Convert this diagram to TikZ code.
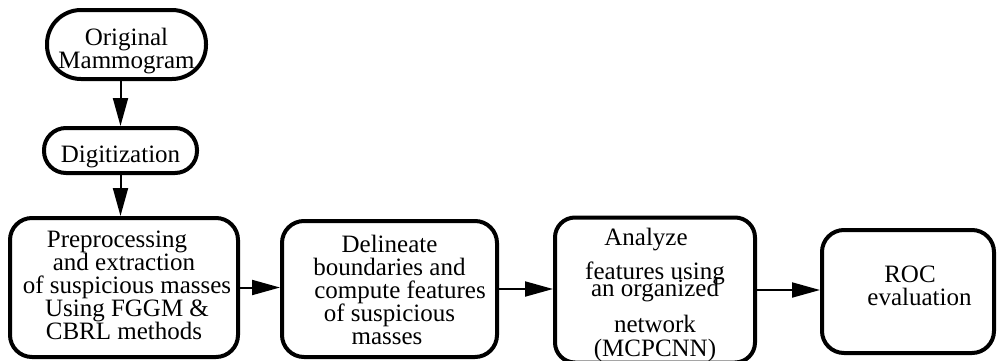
\documentclass[tikz,border=0pt]{standalone}
\usepackage{fontspec}
\setmainfont{Liberation Serif}
\usetikzlibrary{arrows.meta}
\setlength{\lineskiplimit}{-100pt}
\setlength{\lineskip}{0pt}
\newcommand{\topst}[1]{\rule{0pt}{#1}}
\newcommand{\botst}[1]{\rule[-#1]{0pt}{#1}}
\newcommand{\boxfont}{\fontsize{25}{23}\selectfont}
\begin{document}
\begin{tikzpicture}[x=1pt,y=-1pt,
  box/.style={draw, line width=4pt, inner sep=0pt, align=center,
    font=\boxfont, rounded corners=22pt},
  arr/.style={line width=2pt, -{Triangle[length=28pt,width=15pt]}}]
\useasboundingbox (0,0) rectangle (997,360);
\node[box, minimum width=159pt, minimum height=69pt, rounded corners=34pt] (orig) at (126.5,44.5)
  {\topst{31pt}Original\\Mammogram\botst{7pt}};
\node[box, minimum width=153pt, minimum height=45pt, rounded corners=22pt] (digit) at (120.5,150.5)
  {\rule[-7pt]{0pt}{37pt}Digitization};
\node[box, minimum width=228pt, minimum height=139pt] (pre) at (124,287.5)
  {\topst{22pt}Preprocessing\hspace*{14pt}\\and extraction\hspace*{36pt}\\\hspace*{6pt}of suspicious masses\\\hspace*{6pt}Using FGGM \&\\CBRL methods\botst{11pt}};
\node[box, minimum width=215pt, minimum height=136pt] (del) at (389.5,289)
  {\topst{22pt}Delineate\\boundaries and\\\hspace*{21pt}compute features\\of suspicious\hspace*{5pt}\\masses\hspace*{5pt}\botst{4pt}};
\node[box, minimum width=200pt, minimum height=134pt, rounded corners=20pt] (ana) at (655,290)
  {\topst{27.5pt}Analyze\hspace*{18pt}\\[11pt]features using\hspace*{11pt}\\[-6pt]an organized\hspace*{21pt}\\[13pt]network\hspace*{5pt}\\[1pt](MCPCNN)\botst{6.5pt}};
\node[box, minimum width=172pt, minimum height=123pt] (roc) at (908,291.5)
  {\topst{22pt}\hspace*{4pt}ROC\\\hspace*{23pt}evaluation\botst{18pt}};
\draw[arr] (digit.north |- orig.south) -- (digit.north);
\draw[arr] (digit.south) -- (digit.south |- pre.north);
\draw[arr] (pre.east) -- (pre.east -| del.west);
\draw[arr] (del.east) -- (del.east -| ana.west);
\draw[arr] (ana.east) -- (ana.east -| roc.west);
\end{tikzpicture}
\end{document}
